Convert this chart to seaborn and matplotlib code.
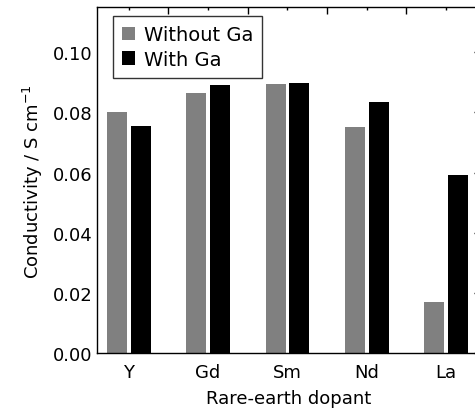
"""
Conductivity of rare-earth doped samples, with and without Ga
"""

import numpy as np
import pandas as pd
import matplotlib
matplotlib.use("Agg")
import matplotlib.pyplot as plt
from matplotlib.ticker import MultipleLocator, FixedLocator, FormatStrFormatter
import seaborn as sns

# data
dopants = ["Y", "Gd", "Sm", "Nd", "La"]
without_ga = [0.0801, 0.0864, 0.0895, 0.0751, 0.0169]
with_ga = [0.0756, 0.0891, 0.0899, 0.0834, 0.0592]
series_names = ["Without Ga", "With Ga"]
series_colors = ["#808080", "#000000"]

df = pd.DataFrame({
    "dopant": dopants * 2,
    "sample": [series_names[0]] * len(dopants) + [series_names[1]] * len(dopants),
    "conductivity": without_ga + with_ga,
})

sns.set_style("white")
plt.rcParams["font.family"] = ["DejaVu Sans"]
plt.rcParams["text.color"] = "black"
plt.rcParams["axes.labelcolor"] = "black"
plt.rcParams["xtick.color"] = "black"
plt.rcParams["ytick.color"] = "black"

fig = plt.figure(figsize=(4.75, 4.14), dpi=100)
# right spine sits just outside the picture, as in the reference
ax = fig.add_axes([97 / 475, 1 - 354.3 / 414, 384 / 475, 346.3 / 414])

sns.barplot(
    data=df, x="dopant", y="conductivity", hue="sample",
    order=dopants, hue_order=series_names,
    palette=series_colors, width=0.6, gap=0.16,
    linewidth=0, ax=ax,
)

ax.set_xlim(-0.4, 4.44)
ax.set_ylim(0, 0.115)

# y ticks: every 0.02 with minor at 0.01, inward on both sides
ax.yaxis.set_major_locator(MultipleLocator(0.02))
ax.yaxis.set_minor_locator(MultipleLocator(0.01))
ax.yaxis.set_major_formatter(FormatStrFormatter("%.2f"))

# x ticks: short ones at categories, longer ones between categories
ax.xaxis.set_major_locator(FixedLocator(range(len(dopants))))
ax.set_xticklabels(dopants)
ax.xaxis.set_minor_locator(FixedLocator(np.arange(0.5, len(dopants) - 0.5, 1.0)))

ax.tick_params(axis="both", which="both", direction="in",
               top=True, right=True, width=1.0, labelsize=13)
ax.tick_params(axis="y", which="major", length=5, pad=3)
ax.tick_params(axis="y", which="minor", length=2.5)
ax.tick_params(axis="x", which="major", length=2.5, pad=7)
ax.tick_params(axis="x", which="minor", length=5)

for side in ax.spines.values():
    side.set_visible(True)
    side.set_color("black")
    side.set_linewidth(1.0)

ax.set_xlabel("Rare-earth dopant", fontsize=13, labelpad=6)
ax.set_ylabel("Conductivity / S cm$^{-1}$", fontsize=13, labelpad=6)

leg = ax.legend(
    loc="upper left", bbox_to_anchor=(16.3 / 384, 1 - 9.3 / 346.3), borderaxespad=0,
    frameon=True, fancybox=False, fontsize=14,
    handlelength=0.68, handleheight=0.68, handletextpad=0.45,
    borderpad=0.45, labelspacing=0.3,
)
leg.get_frame().set_edgecolor("black")
leg.get_frame().set_linewidth(1.0)

fig.savefig("out.png", dpi=100)
plt.close(fig)
